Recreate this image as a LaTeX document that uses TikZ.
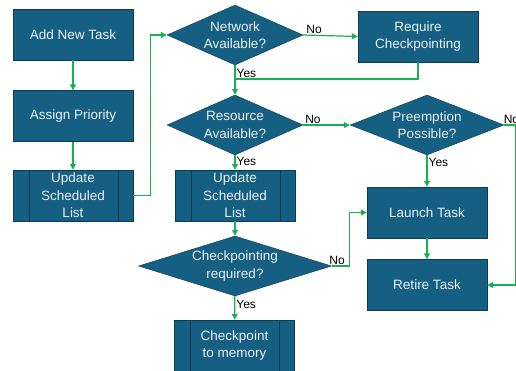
\documentclass[tikz,border=0pt]{standalone}
\usepackage{fontspec}
\setmainfont{Liberation Sans}
\usetikzlibrary{shapes.geometric,arrows.meta}
\definecolor{boxblue}{RGB}{21,96,130}
\definecolor{boxedge}{RGB}{12,58,82}
\definecolor{boxtext}{RGB}{236,241,245}
\definecolor{flowgreen}{RGB}{20,178,80}
\begin{document}
\begin{tikzpicture}[x=1pt,y=-1pt]
  \tikzset{process/.style={rectangle,draw=boxedge,fill=boxblue,text=boxtext,minimum width=120pt,minimum height=51pt,inner sep=0pt,align=center,font=\fontsize{13.5}{17.5}\selectfont},
    subprocess/.style={process,path picture={
        \draw[boxedge] ([xshift=16pt]path picture bounding box.north west) -- ([xshift=16pt]path picture bounding box.south west);
        \draw[boxedge] ([xshift=-15pt]path picture bounding box.north east) -- ([xshift=-15pt]path picture bounding box.south east);}},
    decision/.style={diamond,aspect=2.2,draw=boxedge,fill=boxblue,text=boxtext,minimum width=136pt,minimum height=60pt,inner sep=0pt,align=center,font=\fontsize{13.5}{17.5}\selectfont},
    flow/.style={draw=flowgreen,line width=1.2pt,-{Triangle[length=6pt,width=6pt]}},
    answer/.style={font=\fontsize{12}{13}\selectfont,inner sep=1pt}}
  \useasboundingbox (0,0) rectangle (516,371);
  % left column
  \node[process] (add) at (73,34.5) {Add New Task};
  \node[process] (prio) at (73,116) {Assign Priority};
  \node[subprocess] (upd1) at (73,195.5) {Update\\Scheduled\\List};
  % middle column
  \node[decision] (net) at (235,35) {Network\\Available?};
  \node[decision] (res) at (235,125) {Resource\\Available?};
  \node[subprocess] (upd2) at (235,195.5) {Update\\Scheduled\\List};
  \node[decision,aspect=3.2,minimum width=193pt] (chk) at (235,266) {Checkpointing\\required?};
  \node[subprocess] (mem) at (234.5,345.5) {Checkpoint\\to memory};
  % right column
  \node[process] (req) at (418,36.5) {Require\\Checkpointing};
  \node[decision,minimum width=154pt] (pre) at (427,125) {Preemption\\Possible?};
  \node[process] (launch) at (427,212.5) {Launch Task};
  \node[process] (retire) at (427,285) {Retire Task};
  \coordinate (j1) at (235,79);
  % connectors
  \draw[flow] (add) -- (prio);
  \draw[flow] (prio) -- (upd1);
  \draw[flow] (upd1.east) -- ++(17,0) |- (net.west);
  \draw[flow] (net.east) -- node[answer,above,pos=0.2]{No} (req.west);
  \draw[flow] (net.south) -- node[answer,right,pos=0.27]{Yes} (res.north);
  \draw[draw=flowgreen,line width=1.2pt] (req.south) |- (j1);
  \draw[flow] (res.east) -- node[answer,above,pos=0.21]{No} (pre.west);
  \draw[flow] (res.south) -- node[answer,right,pos=0.45]{Yes} (upd2.north);
  \draw[flow] (pre.south) -- node[answer,right,pos=0.22]{Yes} (launch.north);
  \draw[flow] (pre.east) node[answer,above right,xshift=-2pt]{No} -- ++(11,0) |- (retire.east);
  \draw[flow] (upd2) -- (chk);
  \draw[flow] (chk.east) -- node[answer,above,pos=0.3]{No} ++(18,0) |- (launch.west);
  \draw[flow] (chk) -- node[answer,right,pos=0.37]{Yes} (mem);
  \draw[flow] (launch) -- (retire);
\end{tikzpicture}
\end{document}
